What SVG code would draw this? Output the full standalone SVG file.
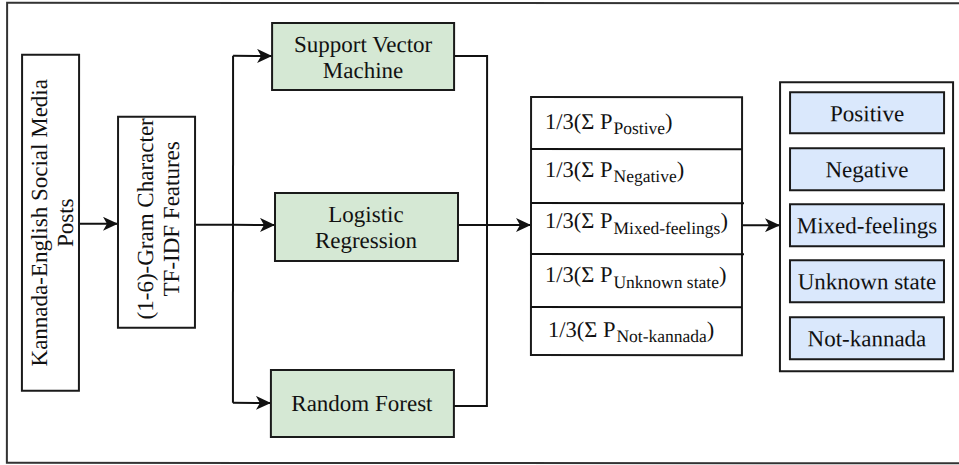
<svg xmlns="http://www.w3.org/2000/svg" width="959" height="465" viewBox="0 0 959 465" font-family="'Liberation Serif', 'Times New Roman', serif" text-rendering="geometricPrecision">
<style>
  .t { font-family: "Liberation Serif", "Times New Roman", serif; font-size: 23px; fill: #111; text-rendering: geometricPrecision; }
  .m { font-size: 22.5px; }
  .box { stroke: #1a1a1a; stroke-width: 2; fill: #ffffff; }
  .green { fill: #d5e8d4; }
  .blue { fill: #dae8fc; }
  .c { text-anchor: middle; }
  .conn { stroke: #111; stroke-width: 2; fill: none; }
  .sub { font-size: 17.5px; }
</style>
<defs>
  <marker id="arr" markerUnits="userSpaceOnUse" markerWidth="16" markerHeight="14" refX="15" refY="7" orient="auto" viewBox="0 0 16 14">
    <path d="M0,0 L15,7 L0,14 L4,7 Z" fill="#111"/>
  </marker>
</defs>
<rect x="0" y="0" width="959" height="465" fill="#ffffff"/>
<g transform="rotate(0.03 480 232)">
<rect id="frame" x="7" y="3" width="960" height="460" fill="none" stroke="#333" stroke-width="2"/>

<g id="connectors">
  <path class="conn" d="M79,224 H118" marker-end="url(#arr)"/>
  <path class="conn" d="M195,225 H233"/>
  <path class="conn" d="M233,56 V403"/>
  <path class="conn" d="M233,56 H272" marker-end="url(#arr)"/>
  <path class="conn" d="M233,225 H275" marker-end="url(#arr)"/>
  <path class="conn" d="M233,403 H271" marker-end="url(#arr)"/>
  <path class="conn" d="M454,56 H487 V406 H454"/>
  <path class="conn" d="M458,225 H531" marker-end="url(#arr)"/>
  <path class="conn" d="M742,225 H780" marker-end="url(#arr)"/>
</g>

<g id="posts">
  <rect class="box" x="22" y="55" width="57" height="336"/>
  <text class="t c" transform="translate(47,223) rotate(-90)">Kannada-English Social Media</text>
  <text class="t c" transform="translate(73,223) rotate(-90)">Posts</text>
</g>

<g id="tfidf">
  <rect class="box" x="118" y="117" width="77" height="211"/>
  <text class="t c" transform="translate(153,219) rotate(-90)">(1-6)-Gram Character</text>
  <text class="t c" transform="translate(179,219) rotate(-90)">TF-IDF Features</text>
</g>

<g id="svm">
  <rect class="box green" x="272" y="23" width="182" height="67"/>
  <text class="t c" x="363" y="52">Support Vector</text>
  <text class="t c" x="363" y="78">Machine</text>
</g>

<g id="lr">
  <rect class="box green" x="275" y="193" width="183" height="68"/>
  <text class="t c" x="366" y="222">Logistic</text>
  <text class="t c" x="366" y="248">Regression</text>
</g>

<g id="rf">
  <rect class="box green" x="271" y="370" width="183" height="67"/>
  <text class="t c" x="362" y="411">Random Forest</text>
</g>

<g id="ensemble">
  <rect class="box" x="531" y="97" width="211" height="258"/>
  <line class="conn" x1="531" y1="149" x2="742" y2="149"/>
  <line class="conn" x1="531" y1="203" x2="744" y2="203"/>
  <line class="conn" x1="531" y1="254" x2="744" y2="254"/>
  <line class="conn" x1="531" y1="307" x2="742" y2="307"/>
  <text class="t m" x="545" y="129">1/3(Σ P<tspan class="sub" dx="1" dy="5">Postive</tspan><tspan dy="-5">)</tspan></text>
  <text class="t m" x="545" y="177">1/3(Σ P<tspan class="sub" dx="1" dy="5">Negative</tspan><tspan dy="-5">)</tspan></text>
  <text class="t m" x="545" y="228">1/3(Σ P<tspan class="sub" dx="1" dy="6">Mixed-feelings</tspan><tspan dy="-6">)</tspan></text>
  <text class="t m" x="545" y="282">1/3(Σ P<tspan class="sub" dx="1" dy="6">Unknown state</tspan><tspan dy="-6">)</tspan></text>
  <text class="t m" x="548" y="337">1/3(Σ P<tspan class="sub" dx="1" dy="5">Not-kannada</tspan><tspan dy="-5">)</tspan></text>
</g>

<g id="classes">
  <rect class="box" x="780" y="82" width="173" height="289"/>
</g>
<g id="positive">
  <rect class="box blue" x="790" y="92" width="154" height="41"/>
  <text class="t c" x="867" y="121">Positive</text>
</g>
<g id="negative">
  <rect class="box blue" x="790" y="148" width="154" height="42"/>
  <text class="t c" x="867" y="177">Negative</text>
</g>
<g id="mixed">
  <rect class="box blue" x="790" y="204" width="154" height="42"/>
  <text class="t c" x="867" y="233">Mixed-feelings</text>
</g>
<g id="unknown">
  <rect class="box blue" x="790" y="260" width="154" height="42"/>
  <text class="t c" x="867" y="289">Unknown state</text>
</g>
<g id="notkannada">
  <rect class="box blue" x="790" y="317" width="154" height="42"/>
  <text class="t c" x="867" y="346">Not-kannada</text>
</g>
</g>
</svg>
